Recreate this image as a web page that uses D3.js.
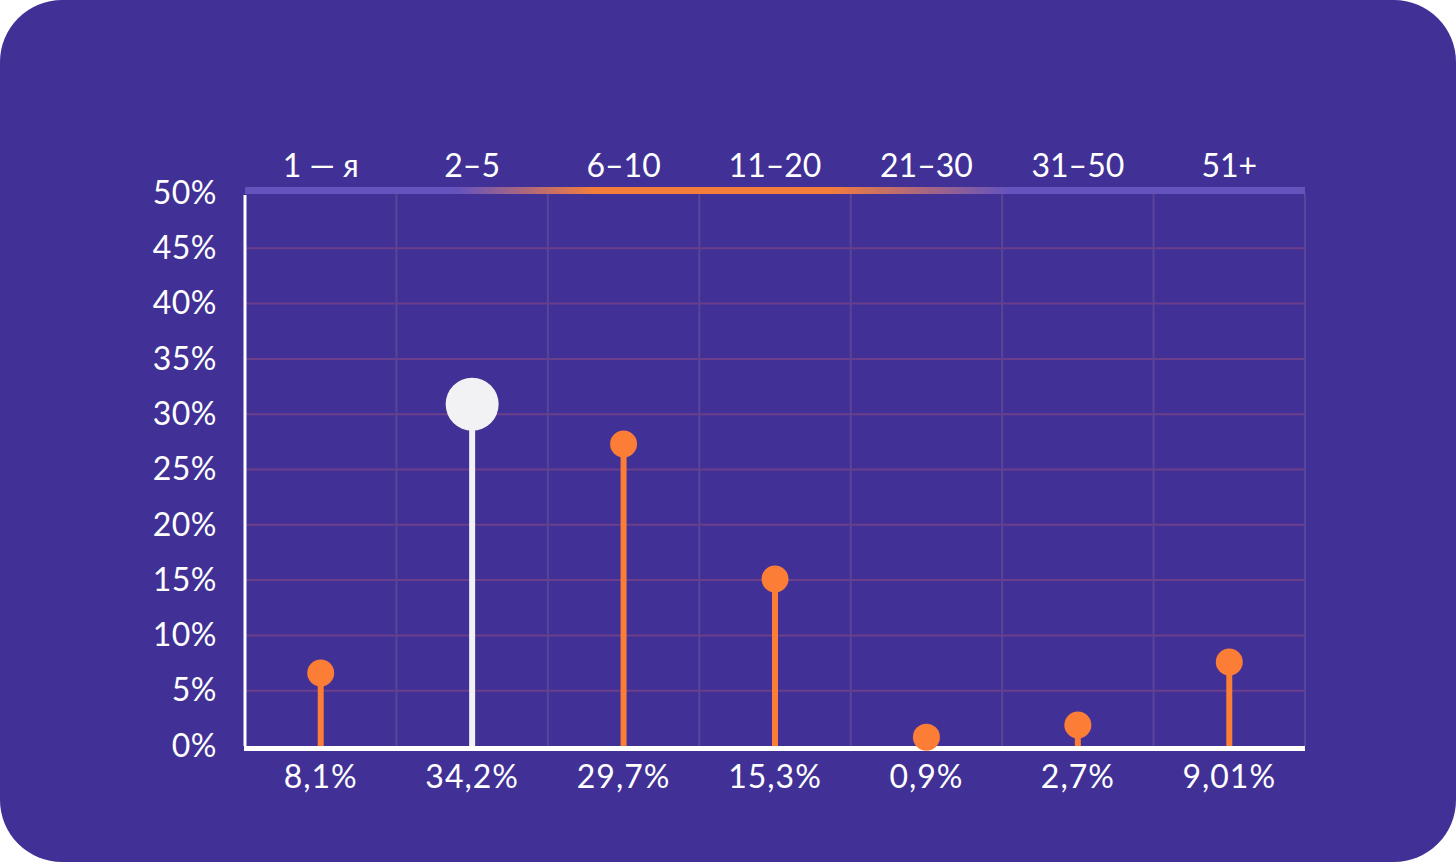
<!DOCTYPE html>
<html>
<head>
<meta charset="utf-8">
<script src="https://cdn.jsdelivr.net/npm/d3@7"></script>
<style>
  html, body { margin: 0; padding: 0; background: #ffffff; }
  svg { display: block; }
</style>
</head>
<body>
<svg id="chart" width="1456" height="862"></svg>
<script>
// groups (top labels)
const groups = ['1 \u2014 я', '2\u20135', '6\u201310', '11\u201320', '21\u201330', '31\u201350', '51+'];
// plotted heights (%)
const plotted = [6.6, 30.9, 27.3, 15.1, 0.8, 1.9, 7.6];
// captions under each column
const captions = ['8,1%', '34,2%', '29,7%', '15,3%', '0,9%', '2,7%', '9,01%'];
// which column is highlighted
const highlight = [false, true, false, false, false, false, false];
const yTicks = [0, 5, 10, 15, 20, 25, 30, 35, 40, 45, 50];

const W = 1456, H = 862;
const plot = { left: 245, right: 1305, top: 193, bottom: 746 };
const font = 'Lato, "Noto Sans", sans-serif';

const svg = d3.select('#chart');

svg.append('rect')
    .attr('width', W).attr('height', H)
    .attr('rx', 62).attr('ry', 62)
    .attr('fill', '#413196');

const x = d3.scaleBand().domain(groups).range([plot.left, plot.right]);
const y = d3.scaleLinear().domain([0, 50]).range([plot.bottom, plot.top]);

// gradient for top bar
const defs = svg.append('defs');
const grad = defs.append('linearGradient')
    .attr('id', 'topbar')
    .attr('gradientUnits', 'userSpaceOnUse')
    .attr('x1', plot.left).attr('x2', plot.right).attr('y1', 0).attr('y2', 0);
grad.append('stop').attr('offset', '0%').attr('stop-color', '#6553bd');
grad.append('stop').attr('offset', '20%').attr('stop-color', '#6553bd');
grad.append('stop').attr('offset', '33%').attr('stop-color', '#f57d3c');
grad.append('stop').attr('offset', '55%').attr('stop-color', '#f57d3c');
grad.append('stop').attr('offset', '72%').attr('stop-color', '#6553bd');
grad.append('stop').attr('offset', '100%').attr('stop-color', '#6553bd');

// horizontal grid
svg.append('g')
    .selectAll('line')
    .data(yTicks.filter(d => d > 0 && d < 50))
    .enter()
    .append('line')
    .attr('x1', plot.left).attr('x2', plot.right)
    .attr('y1', d => y(d)).attr('y2', d => y(d))
    .attr('stroke', '#6b3f8a')
    .attr('stroke-width', 2);

// vertical grid (column boundaries)
svg.append('g')
    .selectAll('line')
    .data(groups.slice(1).concat(['end']))
    .enter()
    .append('line')
    .attr('x1', d => d === 'end' ? plot.right : x(d))
    .attr('x2', d => d === 'end' ? plot.right : x(d))
    .attr('y1', plot.top).attr('y2', plot.bottom)
    .attr('stroke', '#5a4497')
    .attr('stroke-width', 2);

// top bar
svg.append('rect')
    .attr('x', plot.left).attr('y', 187)
    .attr('width', plot.right - plot.left).attr('height', 7)
    .attr('fill', 'url(#topbar)');

// y axis line
svg.append('line')
    .attr('x1', plot.left).attr('x2', plot.left)
    .attr('y1', plot.top + 2).attr('y2', plot.bottom)
    .attr('stroke', '#ffffff').attr('stroke-width', 3);

// y tick labels
const yAxis = d3.axisLeft(y).tickValues(yTicks).tickFormat(d => d + '%').tickSize(0).tickPadding(28);
const ya = svg.append('g').attr('transform', 'translate(' + plot.left + ',0)').call(yAxis);
ya.select('.domain').remove();
ya.selectAll('text')
    .attr('fill', '#ffffff')
    .style('font-family', font)
    .style('font-size', '32px')
    .style('letter-spacing', '0.5px');

// top labels
const xTop = d3.axisTop(x).tickSize(0).tickPadding(10);
const xt = svg.append('g').attr('transform', 'translate(0,' + 187 + ')').call(xTop);
xt.select('.domain').remove();
xt.selectAll('text')
    .attr('fill', '#ffffff')
    .style('font-family', font)
    .style('font-size', '32px');

// bottom captions
const xb = svg.append('g').attr('transform', 'translate(0,' + plot.bottom + ')')
    .call(d3.axisBottom(x).tickSize(0).tickPadding(19).tickFormat((d, i) => captions[i]));
xb.select('.domain').remove();
xb.selectAll('text')
    .attr('fill', '#ffffff')
    .style('font-family', font)
    .style('font-size', '32px')
    .style('letter-spacing', '1px');

// stems
const cx = d => x(d) + x.bandwidth() / 2;
svg.append('g')
    .selectAll('line')
    .data(groups)
    .enter()
    .append('line')
    .attr('x1', d => cx(d)).attr('x2', d => cx(d))
    .attr('y1', plot.bottom).attr('y2', (d, i) => y(plotted[i]))
    .attr('stroke', (d, i) => highlight[i] ? '#f2f2f4' : '#fb7d36')
    .attr('stroke-width', 6);

// x axis line
svg.append('line')
    .attr('x1', plot.left - 1).attr('x2', plot.right)
    .attr('y1', plot.bottom + 2.5).attr('y2', plot.bottom + 2.5)
    .attr('stroke', '#ffffff').attr('stroke-width', 5);

// dots
svg.append('g')
    .selectAll('circle')
    .data(groups)
    .enter()
    .append('circle')
    .attr('cx', d => cx(d))
    .attr('cy', (d, i) => y(plotted[i]))
    .attr('r', (d, i) => highlight[i] ? 26.5 : 13.5)
    .attr('fill', (d, i) => highlight[i] ? '#f2f2f4' : '#fb7d36');
</script>
</body>
</html>
